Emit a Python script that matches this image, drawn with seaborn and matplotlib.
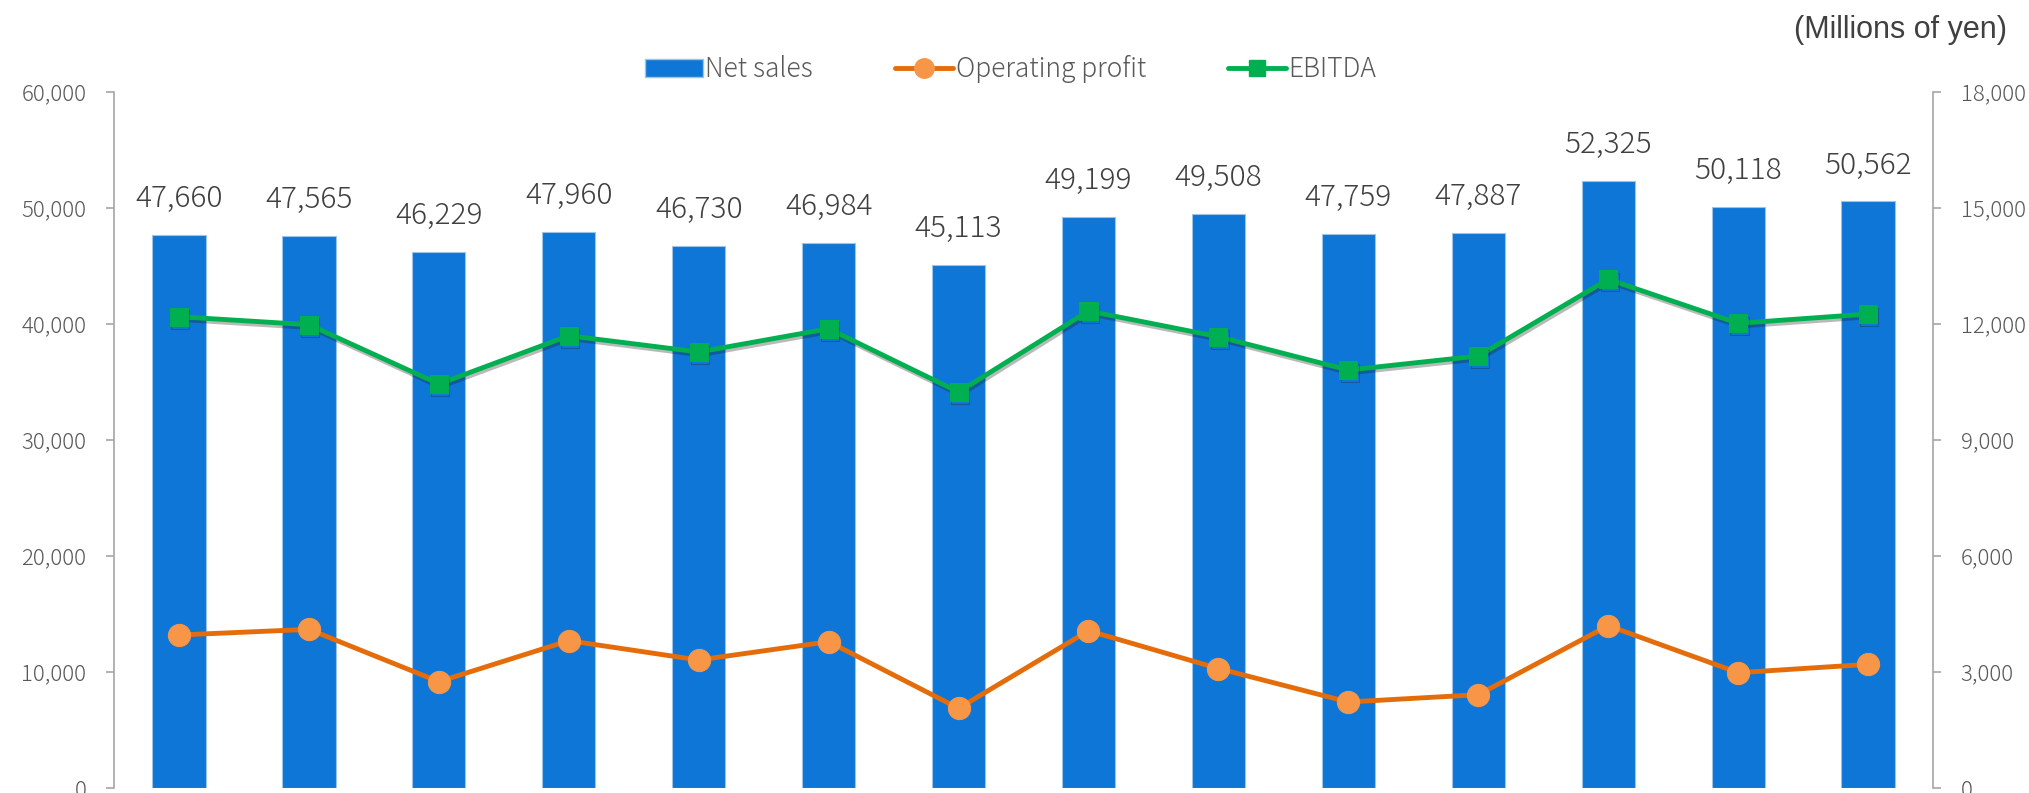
import numpy as np
import pandas as pd
import matplotlib
matplotlib.use("Agg")
import matplotlib.pyplot as plt
import matplotlib.ticker as ticker
import matplotlib.patheffects as pe
from matplotlib.patches import Patch
from matplotlib.lines import Line2D
import seaborn as sns

sns.set_theme(style='white')
plt.rcParams['font.family'] = ['Noto Sans CJK JP', 'DejaVu Sans']

# data (millions of yen), 14 periods
periods = [f"P{i+1}" for i in range(14)]
net_sales = [47660, 47565, 46229, 47960, 46730, 46984, 45113,
             49199, 49508, 47759, 47887, 52325, 50118, 50562]
op_profit = [3957, 4103, 2750, 3810, 3310, 3784, 2061,
             4068, 3090, 2224, 2413, 4198, 2982, 3198]
ebitda = [12188, 11981, 10448, 11697, 11276, 11878, 10241,
          12336, 11671, 10809, 11172, 13155, 12017, 12258]

df = pd.DataFrame({'period': periods, 'pos': np.arange(len(periods)),
                   'net_sales': net_sales, 'op_profit': op_profit, 'ebitda': ebitda})

bar_col = '#0E76D6'
op_line = '#E46C0A'
op_mark = '#F79646'
eb_col = '#00B050'
axis_col = '#A6A6A6'
tick_txt = '#595959'
lab_txt = '#404040'

fig = plt.figure(figsize=(20.29, 7.93), dpi=100)
ax = fig.add_axes([0.0562, 0.0063, 0.8965, 0.8777])

sns.barplot(data=df, x='period', y='net_sales', color=bar_col, width=0.41,
            edgecolor='#9DC3E6', linewidth=0.8, saturation=1, ax=ax)
ax.set_ylim(0, 60000)
ax.set_xlim(-0.5, len(periods) - 0.5)
ax.yaxis.set_major_locator(ticker.MultipleLocator(10000))
ax.yaxis.set_major_formatter(ticker.StrMethodFormatter('{x:,.0f}'))
ax.set_xlabel('')
ax.set_ylabel('')
ax.set_xticks([])

for i, v in enumerate(net_sales):
    ax.annotate(f"{v:,}", (i, v), xytext=(0, 15), textcoords='offset points',
                ha='center', va='bottom', fontsize=21.5, color=lab_txt,
                fontweight='light')

ax2 = ax.twinx()
sns.lineplot(data=df, x='pos', y='op_profit', color=op_line, linewidth=3.5,
             marker='o', markersize=16, markerfacecolor=op_mark,
             markeredgecolor=op_mark, ax=ax2, zorder=3)
sns.lineplot(data=df, x='pos', y='ebitda', color=eb_col, linewidth=3.5,
             marker='s', markersize=13, markerfacecolor=eb_col,
             markeredgecolor=eb_col, ax=ax2, zorder=3,
             path_effects=[pe.SimpleLineShadow(offset=(1, -2), alpha=0.3), pe.Normal()])
ax2.set_ylim(0, 18000)
ax2.yaxis.set_major_locator(ticker.MultipleLocator(3000))
ax2.yaxis.set_major_formatter(ticker.StrMethodFormatter('{x:,.0f}'))
ax2.set_xlabel('')
ax2.set_ylabel('')
ax2.grid(False)
ax.grid(False)

for a in (ax, ax2):
    for s in ('top', 'bottom'):
        a.spines[s].set_visible(False)
    a.spines['left'].set_visible(a is ax)
    a.spines['right'].set_visible(a is ax2)
    for s in ('left', 'right'):
        a.spines[s].set_color(axis_col)
        a.spines[s].set_linewidth(1.2)
    a.tick_params(axis='y', colors=axis_col, labelcolor=tick_txt, labelsize=16,
                  length=6, width=1.2, direction='out', pad=14)
    for t in a.get_yticklabels():
        t.set_fontweight('light')
ax.tick_params(axis='y', left=True, right=False)
ax2.tick_params(axis='y', right=True, left=False)

handles = [Patch(facecolor=bar_col, edgecolor='#9DC3E6'),
           Line2D([], [], color=op_line, lw=3.5, marker='o', markersize=14,
                  markerfacecolor=op_mark, markeredgecolor=op_mark),
           Line2D([], [], color=eb_col, lw=3.5, marker='s', markersize=12)]
leg = fig.legend(handles, ['Net sales', 'Operating profit', 'EBITDA'],
                 loc='center', bbox_to_anchor=(0.498, 1 - 69 / 793), ncol=3,
                 frameon=False, fontsize=19, handlelength=2.2, handletextpad=0.1,
                 columnspacing=3.1, labelcolor=tick_txt)
for t in leg.get_texts():
    t.set_fontweight('light')

fig.text(0.989, 1 - 30 / 793, '(Millions of yen)', ha='right', va='center',
         fontsize=22, color=lab_txt, family=['Liberation Sans', 'DejaVu Sans'])

plt.savefig('out.png', dpi=100)
